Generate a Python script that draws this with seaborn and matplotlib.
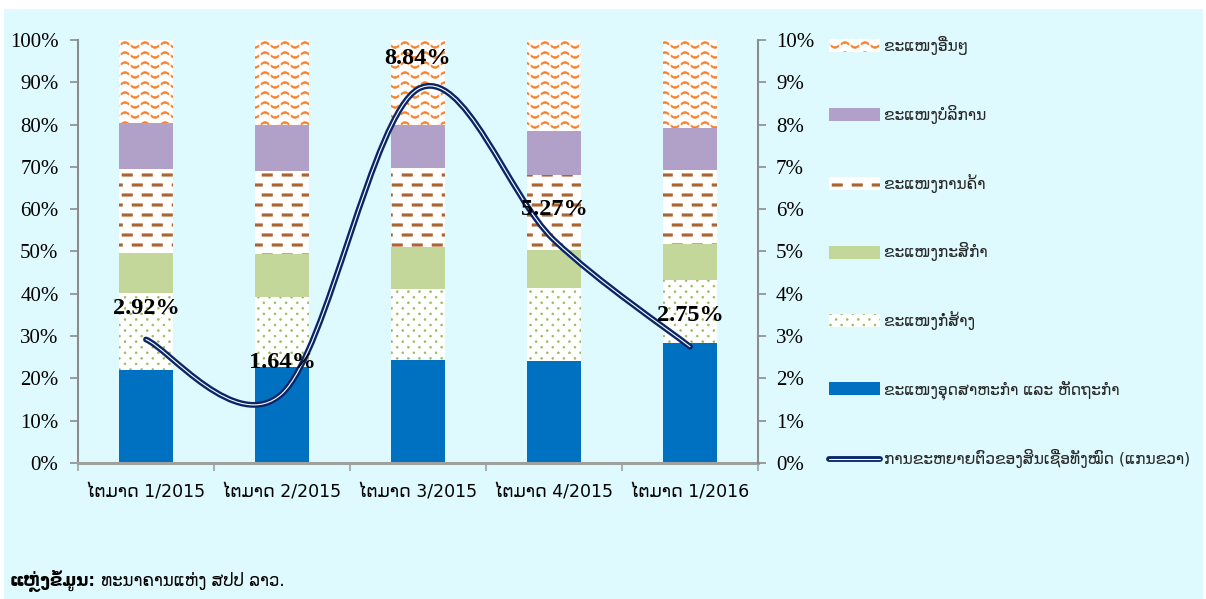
import warnings
import numpy as np
import pandas as pd
import seaborn as sns
import matplotlib
matplotlib.use('Agg')
import matplotlib.pyplot as plt
import matplotlib.hatch as mhatch
import matplotlib.patheffects as pe
from matplotlib.path import Path
from matplotlib.patches import PathPatch, Patch, Rectangle
from matplotlib.lines import Line2D
from matplotlib.ticker import MultipleLocator, FuncFormatter

warnings.filterwarnings('ignore')

quarters = ['ໄຕມາດ 1/2015', 'ໄຕມາດ 2/2015', 'ໄຕມາດ 3/2015', 'ໄຕມາດ 4/2015', 'ໄຕມາດ 1/2016']
industry = [22.0, 22.7, 24.3, 24.2, 28.3]
construction = [18.3, 16.6, 16.8, 17.1, 15.0]
agriculture = [9.3, 10.1, 10.0, 9.1, 8.5]
trade = [19.9, 19.6, 18.7, 17.8, 17.5]
services = [10.9, 11.0, 10.1, 10.4, 9.8]
others = [19.6, 20.0, 20.1, 21.4, 20.9]
creditGrowth = [2.92, 1.64, 8.84, 5.27, 2.75]

sectorLabels = ['ຂະແໜງອຸດສາຫະກຳ ແລະ ຫັດຖະກຳ', 'ຂະແໜງກໍ່ສ້າງ', 'ຂະແໜງກະສິກຳ',
                'ຂະແໜງການຄ້າ', 'ຂະແໜງບໍລິການ', 'ຂະແໜງອື່ນໆ']
lineLabel = 'ການຂະຫຍາຍຕົວຂອງສິນເຊື່ອທັງໝົດ (ແກນຂວາ)'
sourceBold = 'ແຫຼ່ງຂໍ້ມູນ:'
sourceText = 'ທະນາຄານແຫ່ງ ສປປ ລາວ.'

bg = '#DFFAFE'
navy = '#0A2668'
grayAxis = '#8C8C8C'

# ---------------- custom hatch patterns (wave / dash / dot) ----------------
class PolyHatch(mhatch.HatchPatternBase):
    symbol = None

    def __init__(self, hatch, density):
        self.polys = self.make_polys() if hatch.count(self.symbol) else []
        self.num_vertices = sum(len(p) + 1 for p in self.polys)

    def set_vertices_and_codes(self, vertices, codes):
        cur = 0
        for poly in self.polys:
            n = len(poly)
            vertices[cur:cur + n] = poly
            vertices[cur + n] = poly[0]
            codes[cur] = Path.MOVETO
            codes[cur + 1:cur + n] = Path.LINETO
            codes[cur + n] = Path.CLOSEPOLY
            cur += n + 1


class WaveHatch(PolyHatch):
    symbol = '~'

    def make_polys(self):
        polys = []
        rows, waves = 10, 5
        half = 1 / waves / 2
        amp, thick, gap = 0.025, 0.009, 0.01
        for r in range(rows):
            yc = (r + 0.5) / rows
            for k in range(waves * 2):
                x = np.linspace(k * half + gap, (k + 1) * half - gap, 8)
                y = yc + amp * np.sin(2 * np.pi * waves * x)
                top = np.column_stack([x, y + thick])
                bot = np.column_stack([x[::-1], (y - thick)[::-1]])
                polys.append(np.vstack([top, bot]))
        return polys


class DashHatch(PolyHatch):
    symbol = '_'

    def make_polys(self):
        polys = []
        rows, dashes = 10, 5
        length, thick = 0.105, 0.012
        for r in range(rows):
            yc = (r + 0.5) / rows
            shift = 0.02 + 0.1 * (r % 2)
            for d in range(dashes):
                x0 = shift + d * 0.2
                x1 = x0 + length
                pieces = [(x0, min(x1, 1.0))]
                if x1 > 1.0:
                    pieces.append((0.0, x1 - 1.0))
                for a, b in pieces:
                    polys.append(np.array([[a, yc - thick], [b, yc - thick],
                                           [b, yc + thick], [a, yc + thick]]))
        return polys


class DotHatch(PolyHatch):
    symbol = ':'

    def make_polys(self):
        polys = []
        cols, rows, rad = 9, 18, 0.010
        ang = np.linspace(0, 2 * np.pi, 9)[:-1]
        for r in range(rows):
            y = (r + 0.5) / rows
            shift = (r % 2) * 0.5 / cols
            for c in range(cols):
                x = (c + 0.25) / cols + shift
                polys.append(np.column_stack([x + rad * np.cos(ang), y + rad * np.sin(ang)]))
        return polys


mhatch._hatch_types.extend([WaveHatch, DashHatch, DotHatch])

sns.set_theme(style='ticks')
plt.rcParams['font.family'] = ['DejaVu Sans']
plt.rcParams['hatch.linewidth'] = 0.4

# bottom to top: (values, face colour, hatch, hatch colour)
layers = [
    (industry, '#0070C0', None, 'none'),
    (construction, 'white', ':', '#98B85A'),
    (agriculture, '#C4D79B', None, 'none'),
    (trade, 'white', '_', '#AC6530'),
    (services, '#B1A0C7', None, 'none'),
    (others, 'white', '~', '#F5822E'),
]

df = pd.DataFrame({'quarter': quarters})
cum = np.zeros(len(quarters))
for i, (vals, _, _, _) in enumerate(layers):
    cum = cum + np.array(vals)
    df['cum%d' % i] = cum

fig = plt.figure(figsize=(12.06, 5.99), dpi=100)
fig.patch.set_facecolor('white')
fig.add_artist(Rectangle((4 / 1206, 0), 1199 / 1206, 590 / 599, transform=fig.transFigure,
                         facecolor=bg, edgecolor='none', zorder=-10))

ax = fig.add_axes([78 / 1206, 136 / 599, 680 / 1206, 423 / 599])
ax.set_facecolor('none')

for i in reversed(range(len(layers))):
    vals, face, hatch, hcol = layers[i]
    sns.barplot(data=df, x='quarter', y='cum%d' % i, color=face, hatch=hatch,
                edgecolor=hcol, linewidth=0, width=0.4, saturation=1,
                errorbar=None, ax=ax)

ax.set_xlabel('')
ax.set_ylabel('')
ax.set_ylim(0, 100)
ax.yaxis.set_major_locator(MultipleLocator(10))
ax.yaxis.set_major_formatter(FuncFormatter(lambda v, p: '%d%%' % round(v)))
ax.tick_params(axis='y', length=6, width=1.2, color=grayAxis, pad=8, labelsize=15,
               labelcolor='black', labelfontfamily='Liberation Serif')
ax.set_xticks(np.arange(-0.5, len(quarters), 1), minor=True)
ax.tick_params(axis='x', which='major', length=0, pad=15, labelsize=12.5, labelcolor='black')
ax.tick_params(axis='x', which='minor', length=6, width=1.2, color='#A0A0A0')
for s in ['top', 'right']:
    ax.spines[s].set_visible(False)
ax.spines['left'].set_color(grayAxis)
ax.spines['left'].set_linewidth(1.5)
ax.spines['bottom'].set_color('#A0A0A0')
ax.spines['bottom'].set_linewidth(2.2)

ax2 = ax.twinx()
ax2.set_ylim(0, 10)
ax2.yaxis.set_major_locator(MultipleLocator(1))
ax2.yaxis.set_major_formatter(FuncFormatter(lambda v, p: '%d%%' % round(v)))
ax2.tick_params(axis='y', length=6, width=1.2, color=grayAxis, pad=7, labelsize=15,
                labelcolor='black', labelfontfamily='Liberation Serif')
for s in ['top', 'left', 'bottom']:
    ax2.spines[s].set_visible(False)
ax2.spines['right'].set_color(grayAxis)
ax2.spines['right'].set_linewidth(1.5)

# smoothed credit growth line (cubic Bezier through the data points)
pts = np.column_stack([np.arange(len(creditGrowth)), creditGrowth]).astype(float)
verts = [pts[0]]
codes = [Path.MOVETO]
n = len(pts)
for i in range(n - 1):
    p_prev = pts[max(i - 1, 0)]
    p_next2 = pts[min(i + 2, n - 1)]
    c1 = pts[i] + (pts[i + 1] - p_prev) / 6
    c2 = pts[i + 1] - (p_next2 - pts[i]) / 6
    verts += [c1, c2, pts[i + 1]]
    codes += [Path.CURVE4] * 3
creditPath = Path(np.array(verts), codes)
lineFx = [pe.Stroke(linewidth=4.2, foreground=navy, capstyle='round'), pe.Normal()]
ax2.add_patch(PathPatch(creditPath, facecolor='none', edgecolor='white', linewidth=0.8,
                        capstyle='round', zorder=5, path_effects=lineFx))

for i, v in enumerate(creditGrowth):
    ax2.annotate('%.2f%%' % v, xy=(i, v), xytext=(0, 31), textcoords='offset pixels',
                 ha='center', va='center', fontsize=17.5, fontweight='bold',
                 fontfamily='Liberation Serif', color='black', zorder=6)

ax.set_xlim(-0.5, len(quarters) - 0.5)

# legend
handles = []
labels = []
for i in reversed(range(len(layers))):
    vals, face, hatch, hcol = layers[i]
    handles.append(Patch(facecolor=face, edgecolor=hcol, hatch=hatch, linewidth=0))
    labels.append(sectorLabels[i])
handles.append(Line2D([], [], color='white', linewidth=0.8, solid_capstyle='round',
                      path_effects=lineFx))
labels.append(lineLabel)
fig.legend(handles, labels, loc='upper left', bbox_to_anchor=(829 / 1206, 1 - 36 / 599),
           frameon=False, fontsize=11.2, handlelength=3.3, handleheight=0.9,
           handletextpad=0.25, labelspacing=3.2, borderaxespad=0, borderpad=0)

# source note
t1 = fig.text(10 / 1206, 1 - 586 / 599, sourceBold, fontsize=12, fontweight='bold',
              va='baseline', ha='left', color='black')
fig.add_artist(plt.Annotation(' ' + sourceText, xy=(1, 1 - 586 / 599),
                              xycoords=(t1, 'figure fraction'), va='baseline', ha='left',
                              fontsize=12, color='black'))

fig.savefig('out.png', dpi=100, facecolor=fig.get_facecolor())
